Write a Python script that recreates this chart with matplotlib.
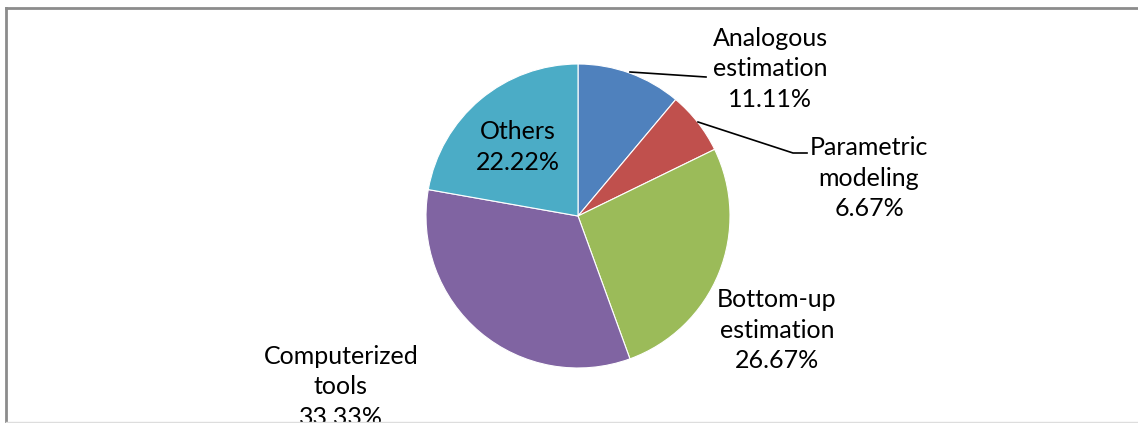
import matplotlib.pyplot as plt
from matplotlib.lines import Line2D

labels = ["Analogous\nestimation", "Parametric\nmodeling", "Bottom-up\nestimation", "Computerized\ntools", "Others"]
shares = [11.11, 6.67, 26.67, 33.33, 22.22]
colors = ["#4F81BD", "#C0504D", "#9BBB59", "#8064A2", "#4BACC6"]

W, H = 1138, 423
cx, cy, rad = 578, 216, 152  # pie centre / radius in pixels

# label block centres (pixels) and leader lines
label_pos = [(770, 69), (869, 178), (777, 330), (341, 387), (518, 147)]
leaders = {0: [(630, 72), (706, 77)], 1: [(698, 122), (793, 153), (807, 153)]}

plt.rcParams['font.family'] = ['Lato', 'DejaVu Sans']

fig = plt.figure(figsize=(W / 100, H / 100), dpi=100)
ax = fig.add_axes([0, 0, 1, 1])

def px(p):
    return ((p[0] - cx) / rad, (cy - p[1]) / rad)

ax.pie(shares, colors=colors, startangle=90, counterclock=False, radius=1,
       wedgeprops=dict(edgecolor='white', linewidth=0.8))
# pie() resets the limits, so set them afterwards
ax.set_xlim(-cx / rad, (W - cx) / rad)
ax.set_ylim(-(H - cy) / rad, cy / rad)
ax.set_aspect('auto')
ax.axis('off')

for i, (lab, val) in enumerate(zip(labels, shares)):
    x, y = px(label_pos[i])
    ax.text(x, y, "%s\n%.2f%%" % (lab, val), ha='center', va='center',
            fontsize=18, linespacing=1.42, color='black')

for i, pts in leaders.items():
    d = [px(p) for p in pts]
    ax.plot([p[0] for p in d], [p[1] for p in d], color='black', lw=1.2)

# chart area border
fig.add_artist(Line2D([6 / W, 1], [1 - 8.5 / H, 1 - 8.5 / H], color='#8c8c8c', lw=2))
fig.add_artist(Line2D([6 / W, 6 / W], [0, 1 - 8.5 / H], color='#8c8c8c', lw=2))
fig.add_artist(Line2D([6 / W, 1], [0.7 / H, 0.7 / H], color='#dddddd', lw=1))

fig.savefig("out.png", dpi=100)
